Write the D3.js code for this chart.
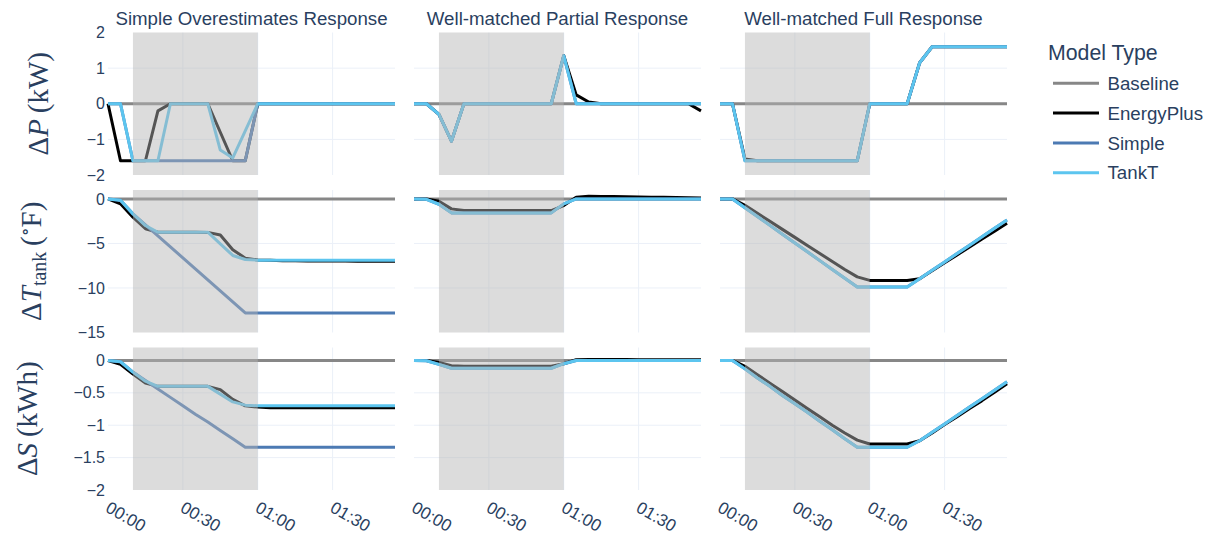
<!DOCTYPE html>
<html>
<head>
<meta charset="utf-8">
<script src="https://cdn.jsdelivr.net/npm/d3@7"></script>
<style>
  html, body { margin: 0; padding: 0; background: #ffffff; }
  svg { display: block; }
  text { fill: #2a3f5f; }
  .sans { font-family: "Liberation Sans", Arial, sans-serif; }
  .math { font-family: "Liberation Serif", "DejaVu Serif", serif; }
</style>
</head>
<body>
<svg id="chart" width="1211" height="538"></svg>
<script>
// ---- time axis (minutes since event start, 5-minute steps) ----
const minutes = [0, 5, 10, 15, 20, 25, 30, 35, 40, 45, 50, 55, 60, 65, 70, 75, 80, 85, 90, 95, 100, 105, 110, 115];
const timeTicks = [0, 30, 60, 90];
const timeTickLabels = ["00:00", "00:30", "01:00", "01:30"];
const eventWindow = [10, 60];

const scenarios = ["Simple Overestimates Response", "Well-matched Partial Response", "Well-matched Full Response"];
const models = ["Baseline", "EnergyPlus", "Simple", "TankT"];
const modelColors = ["#878787", "#000000", "#4c7ab3", "#5cc5ef"];

const yRanges = [[-2, 2], [-15, 1], [-2, 0.2]];
const yTickValues = [[2, 1, 0, -1, -2], [0, -5, -10, -15], [0, -0.5, -1, -1.5, -2]];

// ---- Baseline (no response) ----
const baseline = [0, 0, 0, 0, 0, 0, 0, 0, 0, 0, 0, 0, 0, 0, 0, 0, 0, 0, 0, 0, 0, 0, 0, 0];

// ---- Simple Overestimates Response ----
const overPowerEPlus  = [0, -1.6, -1.6, -1.6, -0.2, 0, 0, 0, 0, -0.8, -1.6, -1.6, 0, 0, 0, 0, 0, 0, 0, 0, 0, 0, 0, 0];
const overPowerSimple = [0, 0, -1.6, -1.6, -1.6, -1.6, -1.6, -1.6, -1.6, -1.6, -1.6, -1.6, 0, 0, 0, 0, 0, 0, 0, 0, 0, 0, 0, 0];
const overPowerTankT  = [0, 0, -1.6, -1.6, -1.6, 0, 0, 0, 0, -1.3, -1.52, -0.76, 0, 0, 0, 0, 0, 0, 0, 0, 0, 0, 0, 0];

const overTempEPlus  = [0, -0.55, -2.05, -3.35, -3.74, -3.75, -3.75, -3.75, -3.76, -4.05, -5.7, -6.65, -6.85, -6.9, -6.93, -6.95, -6.96, -6.97, -6.98, -6.98, -6.99, -6.99, -7.0, -7.0];
const overTempSimple = [0, -0.15, -1.68, -2.92, -4.15, -5.39, -6.62, -7.86, -9.1, -10.33, -11.57, -12.8, -12.8, -12.8, -12.8, -12.8, -12.8, -12.8, -12.8, -12.8, -12.8, -12.8, -12.8, -12.8];
const overTempTankT  = [0, -0.15, -1.68, -2.99, -3.74, -3.74, -3.74, -3.74, -3.74, -5.04, -6.35, -6.8, -6.88, -6.9, -6.9, -6.9, -6.9, -6.9, -6.9, -6.9, -6.9, -6.9, -6.9, -6.9];

const overStoreEPlus  = [0, -0.06, -0.21, -0.35, -0.4, -0.4, -0.4, -0.4, -0.4, -0.45, -0.6, -0.7, -0.72, -0.73, -0.73, -0.73, -0.73, -0.73, -0.73, -0.73, -0.73, -0.73, -0.73, -0.73];
const overStoreSimple = [0, -0.02, -0.18, -0.31, -0.44, -0.57, -0.7, -0.83, -0.95, -1.08, -1.21, -1.34, -1.34, -1.34, -1.34, -1.34, -1.34, -1.34, -1.34, -1.34, -1.34, -1.34, -1.34, -1.34];
const overStoreTankT  = [0, -0.02, -0.18, -0.32, -0.4, -0.4, -0.4, -0.4, -0.4, -0.52, -0.64, -0.69, -0.7, -0.7, -0.7, -0.7, -0.7, -0.7, -0.7, -0.7, -0.7, -0.7, -0.7, -0.7];

// ---- Well-matched Partial Response ----
const partPowerEPlus  = [0, 0, -0.3, -1.05, 0, 0, 0, 0, 0, 0, 0, 0, 1.35, 0.25, 0.05, 0, 0, 0, 0, 0, 0, 0, 0, -0.2];
const partPowerSimple = [0, 0, -0.3, -1.05, 0, 0, 0, 0, 0, 0, 0, 0, 1.35, 0, 0, 0, 0, 0, 0, 0, 0, 0, 0, 0];
const partPowerTankT  = [0, 0, -0.3, -1.05, 0, 0, 0, 0, 0, 0, 0, 0, 1.35, 0, 0, 0, 0, 0, 0, 0, 0, 0, 0, 0];

const partTempEPlus  = [0, 0, -0.26, -1.12, -1.31, -1.31, -1.31, -1.31, -1.31, -1.31, -1.31, -1.31, -0.75, 0.2, 0.3, 0.28, 0.26, 0.24, 0.22, 0.2, 0.18, 0.15, 0.13, 0.11];
const partTempSimple = [0, -0.05, -0.6, -1.57, -1.57, -1.57, -1.57, -1.57, -1.57, -1.57, -1.57, -1.57, -0.56, 0, 0, 0, 0, 0, 0, 0, 0, 0, 0, 0];
const partTempTankT  = [0, -0.05, -0.6, -1.57, -1.57, -1.57, -1.57, -1.57, -1.57, -1.57, -1.57, -1.57, -0.56, 0, 0, 0, 0, 0, 0, 0, 0, 0, 0, 0];

const partStoreEPlus  = [0, 0, -0.03, -0.08, -0.09, -0.09, -0.09, -0.09, -0.09, -0.09, -0.09, -0.09, -0.05, 0.01, 0.015, 0.015, 0.014, 0.013, 0.012, 0.011, 0.01, 0.01, 0.01, 0.01];
const partStoreSimple = [0, -0.005, -0.06, -0.12, -0.12, -0.12, -0.12, -0.12, -0.12, -0.12, -0.12, -0.12, -0.05, 0, 0, 0, 0, 0, 0, 0, 0, 0, 0, 0];
const partStoreTankT  = [0, -0.005, -0.06, -0.12, -0.12, -0.12, -0.12, -0.12, -0.12, -0.12, -0.12, -0.12, -0.05, 0, 0, 0, 0, 0, 0, 0, 0, 0, 0, 0];

// ---- Well-matched Full Response ----
const fullPowerEPlus  = [0, 0, -1.55, -1.6, -1.6, -1.6, -1.6, -1.6, -1.6, -1.6, -1.6, -1.6, 0, 0, 0, 0, 1.15, 1.6, 1.6, 1.6, 1.6, 1.6, 1.6, 1.6];
const fullPowerSimple = [0, 0, -1.6, -1.6, -1.6, -1.6, -1.6, -1.6, -1.6, -1.6, -1.6, -1.6, 0, 0, 0, 0, 1.15, 1.6, 1.6, 1.6, 1.6, 1.6, 1.6, 1.6];
const fullPowerTankT  = [0, 0, -1.6, -1.6, -1.6, -1.6, -1.6, -1.6, -1.6, -1.6, -1.6, -1.6, 0, 0, 0, 0, 1.15, 1.6, 1.6, 1.6, 1.6, 1.6, 1.6, 1.6];

const fullTempEPlus  = [0, 0, -0.71, -1.62, -2.52, -3.42, -4.32, -5.23, -6.13, -7.02, -7.92, -8.75, -9.15, -9.15, -9.15, -9.15, -8.96, -8.07, -7.18, -6.29, -5.4, -4.51, -3.62, -2.73];
const fullTempSimple = [0, 0, -0.99, -1.98, -2.97, -3.96, -4.95, -5.94, -6.93, -7.92, -8.91, -9.9, -9.9, -9.9, -9.9, -9.9, -8.96, -8.02, -7.08, -6.13, -5.19, -4.25, -3.3, -2.36];
const fullTempTankT  = [0, 0, -0.99, -1.98, -2.97, -3.96, -4.95, -5.94, -6.93, -7.92, -8.91, -9.9, -9.9, -9.9, -9.9, -9.9, -8.96, -8.02, -7.08, -6.13, -5.19, -4.25, -3.3, -2.36];

const fullStoreEPlus  = [0, 0, -0.09, -0.22, -0.35, -0.48, -0.61, -0.74, -0.87, -1.0, -1.12, -1.23, -1.29, -1.29, -1.29, -1.29, -1.24, -1.12, -0.99, -0.87, -0.74, -0.62, -0.49, -0.36];
const fullStoreSimple = [0, 0, -0.13, -0.27, -0.4, -0.54, -0.67, -0.8, -0.94, -1.07, -1.21, -1.34, -1.34, -1.34, -1.34, -1.34, -1.24, -1.11, -0.98, -0.85, -0.72, -0.59, -0.46, -0.33];
const fullStoreTankT  = [0, 0, -0.13, -0.27, -0.4, -0.54, -0.67, -0.8, -0.94, -1.07, -1.21, -1.34, -1.34, -1.34, -1.34, -1.34, -1.24, -1.11, -0.98, -0.85, -0.72, -0.59, -0.46, -0.33];

// grid[row][col] -> series per model, in legend order
const grid = [
  [
    [baseline, overPowerEPlus, overPowerSimple, overPowerTankT],
    [baseline, partPowerEPlus, partPowerSimple, partPowerTankT],
    [baseline, fullPowerEPlus, fullPowerSimple, fullPowerTankT]
  ],
  [
    [baseline, overTempEPlus, overTempSimple, overTempTankT],
    [baseline, partTempEPlus, partTempSimple, partTempTankT],
    [baseline, fullTempEPlus, fullTempSimple, fullTempTankT]
  ],
  [
    [baseline, overStoreEPlus, overStoreSimple, overStoreTankT],
    [baseline, partStoreEPlus, partStoreSimple, partStoreTankT],
    [baseline, fullStoreEPlus, fullStoreSimple, fullStoreTankT]
  ]
];

// ---- layout ----
const colLeft = [108, 414, 720];
const colWidth = 287;
const rowTop = [32.5, 190, 347.5];
const rowHeight = 142.5;
const gridColor = "#ebf0f8";
const minus = s => s.replace(/-/g, "\u2212");

const svg = d3.select("#chart");

for (let r = 0; r < 3; r++) {
  for (let c = 0; c < 3; c++) {
    const x = d3.scaleLinear().domain([0, 115]).range([colLeft[c], colLeft[c] + colWidth]);
    const y = d3.scaleLinear().domain(yRanges[r]).range([rowTop[r] + rowHeight, rowTop[r]]);
    const g = svg.append("g");

    // vertical grid lines
    g.selectAll(".vgrid").data(timeTicks.filter(t => t > 0)).join("line")
      .attr("x1", d => x(d)).attr("x2", d => x(d))
      .attr("y1", rowTop[r]).attr("y2", rowTop[r] + rowHeight)
      .attr("stroke", gridColor).attr("stroke-width", 1);

    // horizontal grid lines (inside the range)
    const [lo, hi] = yRanges[r];
    g.selectAll(".hgrid").data(yTickValues[r].filter(v => v > lo && v < hi)).join("line")
      .attr("x1", colLeft[c]).attr("x2", colLeft[c] + colWidth)
      .attr("y1", d => y(d)).attr("y2", d => y(d))
      .attr("stroke", gridColor).attr("stroke-width", d => d === 0 ? 2 : 1);

    // model traces
    const line = d3.line().x((d, i) => x(minutes[i])).y(d => y(d));
    grid[r][c].forEach((series, m) => {
      g.append("path").datum(series)
        .attr("d", line)
        .attr("fill", "none")
        .attr("stroke", modelColors[m])
        .attr("stroke-width", 3)
        .attr("stroke-linejoin", "round");
    });

    // event window shading
    g.append("rect")
      .attr("x", x(eventWindow[0])).attr("width", x(eventWindow[1]) - x(eventWindow[0]))
      .attr("y", rowTop[r]).attr("height", rowHeight)
      .attr("fill", "#b5b5b5").attr("fill-opacity", 0.47);

    // y tick labels on the first column
    if (c === 0) {
      const ax = svg.append("g")
        .attr("transform", `translate(${colLeft[c] - 3},0)`)
        .call(d3.axisLeft(y).tickValues(yTickValues[r]).tickSize(0).tickPadding(0)
          .tickFormat(d => minus(String(d))));
      ax.select(".domain").remove();
      ax.attr("font-family", null).attr("font-size", null);
      ax.selectAll("text").attr("class", "sans").style("font-size", "16px");
    }

    // x tick labels on the bottom row
    if (r === 2) {
      const ax = svg.append("g")
        .attr("transform", `translate(0,${rowTop[r] + rowHeight})`)
        .call(d3.axisBottom(x).tickValues(timeTicks).tickSize(0)
          .tickFormat((d, i) => timeTickLabels[i]));
      ax.select(".domain").remove();
      ax.attr("font-family", null).attr("font-size", null);
      ax.selectAll("text")
        .attr("class", "sans").style("font-size", "17px")
        .attr("text-anchor", "start")
        .attr("y", 0).attr("dy", 0)
        .attr("transform", "translate(-4,21) rotate(30)");
    }
  }
}

// subplot titles
scenarios.forEach((s, c) => {
  svg.append("text").attr("class", "sans")
    .attr("x", colLeft[c] + colWidth / 2).attr("y", 25)
    .attr("text-anchor", "middle").style("font-size", "18.7px")
    .text(s);
});

// y-axis titles (math-style labels)
const yTitleX = [48, 41, 37];
function yTitle(r, build) {
  const t = svg.append("text").attr("class", "math")
    .attr("transform", `translate(${yTitleX[r]},${rowTop[r] + rowHeight / 2}) rotate(-90)`)
    .attr("text-anchor", "middle")
    .style("font-size", "29px");
  build(t);
}
yTitle(0, t => {
  t.append("tspan").text("\u0394");
  t.append("tspan").style("font-style", "italic").text("P");
  t.append("tspan").text("\u2009(kW)");
});
yTitle(1, t => {
  t.append("tspan").text("\u0394");
  t.append("tspan").style("font-style", "italic").text("T");
  t.append("tspan").style("font-size", "20px").attr("dy", 5).text("tank");
  t.append("tspan").attr("dy", -5).text("\u2009(");
  t.append("tspan").style("font-size", "18px").attr("dy", -10).text("\u2218");
  t.append("tspan").attr("dy", 10).text("F)");
});
yTitle(2, t => {
  t.append("tspan").text("\u0394");
  t.append("tspan").style("font-style", "italic").text("S");
  t.append("tspan").text("\u2009(kWh)");
});

// legend
const legend = svg.append("g");
legend.append("text").attr("class", "sans")
  .attr("x", 1048).attr("y", 60).style("font-size", "21.3px").text("Model Type");
models.forEach((m, i) => {
  const ly = 83.3 + i * 29.8;
  legend.append("line")
    .attr("x1", 1053).attr("x2", 1099).attr("y1", ly).attr("y2", ly)
    .attr("stroke", modelColors[i]).attr("stroke-width", 3);
  legend.append("text").attr("class", "sans")
    .attr("x", 1107.5).attr("y", ly + 6.6)
    .style("font-size", "18.7px").text(m);
});
</script>
</body>
</html>
